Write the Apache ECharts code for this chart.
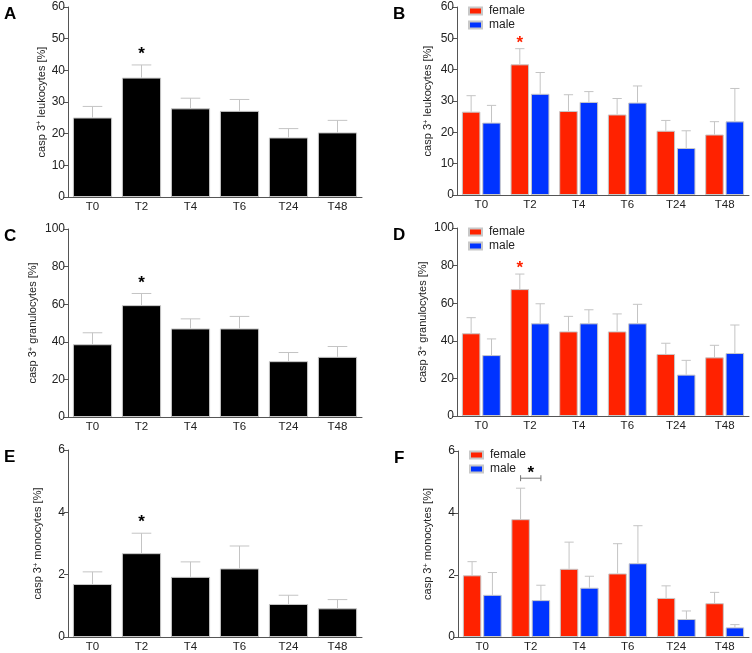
<!DOCTYPE html>
<html>
<head>
<meta charset="UTF-8">
<title>casp 3+ cells</title>
<style>
  html, body { margin: 0; padding: 0; background: #fff; }
  #main { width: 752px; height: 653px; }
</style>
</head>
<body>
<div id="main"></div>
<script src="https://cdn.jsdelivr.net/npm/echarts@6/dist/echarts.min.js"></script>
<script>
var times = ['T0', 'T2', 'T4', 'T6', 'T24', 'T48'];

// A / B  leukocytes
var leukoAll = [25.1, 37.7, 28.0, 27.2, 18.8, 20.4];
var leukoAllSd = [3.5, 4.0, 3.2, 3.6, 2.8, 3.8];
var leukoF = [26.6, 41.7, 26.8, 25.7, 20.5, 19.3];
var leukoFSd = [5.1, 5.0, 5.2, 5.1, 3.3, 4.1];
var leukoM = [23.1, 32.3, 29.7, 29.5, 15.0, 23.5];
var leukoMSd = [5.5, 6.8, 3.3, 5.3, 5.5, 10.5];

// C / D  granulocytes
var granAll = [38.7, 59.5, 47.1, 47.1, 29.7, 32.0];
var granAllSd = [6.1, 6.2, 5.1, 6.4, 4.6, 5.5];
var granF = [44.0, 67.5, 45.0, 45.0, 33.0, 31.2];
var granFSd = [8.3, 8.0, 8.0, 9.3, 5.7, 6.4];
var granM = [32.4, 49.3, 49.3, 49.3, 22.0, 33.5];
var granMSd = [8.6, 10.4, 7.2, 10.1, 7.6, 14.9];

// E / F  monocytes
var monoAll = [1.70, 2.69, 1.93, 2.20, 1.06, 0.92];
var monoAllSd = [0.39, 0.64, 0.48, 0.72, 0.28, 0.28];
var monoF = [1.99, 3.80, 2.20, 2.05, 1.26, 1.09];
var monoFSd = [0.44, 1.00, 0.86, 0.96, 0.39, 0.35];
var monoM = [1.36, 1.19, 1.59, 2.38, 0.58, 0.31];
var monoMSd = [0.72, 0.48, 0.37, 1.21, 0.26, 0.09];

// significance marks per time point
var sigAll = ['', '*', '', '', '', ''];
var sigSex = ['', '*', '', '', '', ''];
var sigMonoSex = ['', '[*]', '', '', '', ''];

var RED = '#ff2200', BLUE = '#0033ff', ERR = '#c4c4c4', AXIS = '#555';
var FONT = 'Liberation Sans, Arial, sans-serif';

var grids = [], xAxes = [], yAxes = [], series = [], titles = [], legends = [];

function errorBars(g, vals, sds, pos, count, sig, sigColor) {
  var data = vals.map(function (v, i) { return [i, v, v + sds[i]]; });
  return {
    type: 'custom', xAxisIndex: g, yAxisIndex: g, z: 5, silent: true,
    data: data,
    renderItem: function (params, api) {
      var i = api.value(0);
      var p0 = api.coord([i, api.value(1)]);
      var p1 = api.coord([i, api.value(2)]);
      var catW = api.size([1, 0])[0];
      var bw = count === 1 ? catW * 0.8 : catW * 0.8 / 2.1;
      var off = count === 1 ? 0 : (pos === 0 ? -1 : 1) * bw * 0.55;
      var x = p0[0] + off, cap = bw / 4;
      var st = { stroke: ERR, lineWidth: 1 };
      var kids = [
        { type: 'line', shape: { x1: x, y1: p0[1], x2: x, y2: p1[1] }, style: st },
        { type: 'line', shape: { x1: x - cap, y1: p1[1], x2: x + cap, y2: p1[1] }, style: st }
      ];
      var s = sig ? sig[i] : '';
      if (s === '*') {
        kids.push({ type: 'text', x: x, y: p1[1] + (count === 1 ? -2 : 3),
          style: { text: '*', fill: sigColor, font: 'bold 17px ' + FONT, align: 'center', verticalAlign: 'bottom' } });
      } else if (s === '[*]') {
        var x2 = x + bw * 1.1, yb = p1[1] - 10;
        var bs = { stroke: '#777', lineWidth: 1 };
        kids.push({ type: 'line', shape: { x1: x, y1: yb, x2: x2, y2: yb }, style: bs });
        kids.push({ type: 'line', shape: { x1: x, y1: yb - 3, x2: x, y2: yb + 3 }, style: bs });
        kids.push({ type: 'line', shape: { x1: x2, y1: yb - 3, x2: x2, y2: yb + 3 }, style: bs });
        kids.push({ type: 'text', x: (x + x2) / 2, y: yb + 4,
          style: { text: '*', fill: '#000', font: 'bold 17px ' + FONT, align: 'center', verticalAlign: 'bottom' } });
      }
      return { type: 'group', children: kids };
    }
  };
}

function panel(letter, box, nameGap, cell, max, interval, groups) {
  var g = grids.length;
  grids.push({ left: box[0], top: box[1], width: box[2], height: box[3] });
  xAxes.push({
    type: 'category', gridIndex: g, data: times,
    axisLine: { lineStyle: { color: AXIS, width: 1 } },
    axisTick: { alignWithLabel: true, length: 4, lineStyle: { color: AXIS } },
    axisLabel: { color: '#222', fontSize: 11.5, fontFamily: FONT, margin: 4 }
  });
  yAxes.push({
    type: 'value', gridIndex: g, min: 0, max: max, interval: interval,
    name: '{t|casp 3}{s|+}{t| ' + cell + ' [%]}',
    nameLocation: 'middle', nameGap: nameGap, nameMoveOverlap: false,
    nameTextStyle: {
      color: '#222', fontFamily: FONT,
      rich: {
        t: { fontSize: 11, fontFamily: FONT, color: '#222', lineHeight: 13 },
        s: { fontSize: 7.5, fontFamily: FONT, color: '#222', verticalAlign: 'top', lineHeight: 8 }
      }
    },
    splitLine: { show: false },
    axisLine: { show: true, lineStyle: { color: AXIS, width: 1 } },
    axisTick: { show: true, length: 4, lineStyle: { color: AXIS } },
    axisLabel: { color: '#222', fontSize: 12, fontFamily: FONT, margin: 3 }
  });
  titles.push({
    text: letter, left: box[0] - 69, top: box[1] - 6,
    textStyle: { fontSize: 17, fontWeight: 'bold', color: '#000', fontFamily: FONT }
  });
  var count = groups.length;
  groups.forEach(function (gr, k) {
    series.push({
      type: 'bar', name: gr.name, xAxisIndex: g, yAxisIndex: g, data: gr.vals,
      barCategoryGap: '20%', barGap: '10%',
      itemStyle: { color: gr.color, borderColor: '#c8c8c8', borderWidth: 1 },
      silent: true
    });
    series.push(errorBars(g, gr.vals, gr.sd, k, count, gr.sig, gr.sigColor));
  });
  if (count > 1) {
    legends.push({
      orient: 'vertical', left: box[0] + 11, top: box[1] - 2, padding: 0,
      itemWidth: 13, itemHeight: 7, itemGap: 2, icon: 'rect',
      data: ['female', 'male'],
      textStyle: { fontSize: 12, fontFamily: FONT, color: '#222', padding: [0, 0, 0, 2] },
      selectedMode: false
    });
  }
}

panel('A', [68, 7, 294, 190], 20, 'leukocytes', 60, 10,
  [{ name: 'all', vals: leukoAll, sd: leukoAllSd, color: '#000', sig: sigAll, sigColor: '#000' }]);
panel('B', [457, 7, 292, 188], 22.5, 'leukocytes', 60, 10,
  [{ name: 'female', vals: leukoF, sd: leukoFSd, color: RED, sig: sigSex, sigColor: RED },
   { name: 'male', vals: leukoM, sd: leukoMSd, color: BLUE }]);
panel('C', [68, 229, 294, 188], 28.5, 'granulocytes', 100, 20,
  [{ name: 'all', vals: granAll, sd: granAllSd, color: '#000', sig: sigAll, sigColor: '#000' }]);
panel('D', [457, 228, 292, 188], 27.5, 'granulocytes', 100, 20,
  [{ name: 'female', vals: granF, sd: granFSd, color: RED, sig: sigSex, sigColor: RED },
   { name: 'male', vals: granM, sd: granMSd, color: BLUE }]);
panel('E', [68, 450, 294, 188], 23.5, 'monocytes', 6, 2,
  [{ name: 'all', vals: monoAll, sd: monoAllSd, color: '#000', sig: sigAll, sigColor: '#000' }]);
panel('F', [458, 451, 291, 188], 23.5, 'monocytes', 6, 2,
  [{ name: 'female', vals: monoF, sd: monoFSd, color: RED, sig: sigMonoSex, sigColor: '#000' },
   { name: 'male', vals: monoM, sd: monoMSd, color: BLUE }]);

var chart = echarts.init(document.getElementById('main'));
chart.setOption({
  animation: false,
  backgroundColor: '#fff',
  title: titles,
  legend: legends,
  grid: grids,
  xAxis: xAxes,
  yAxis: yAxes,
  series: series
});
</script>
</body>
</html>
